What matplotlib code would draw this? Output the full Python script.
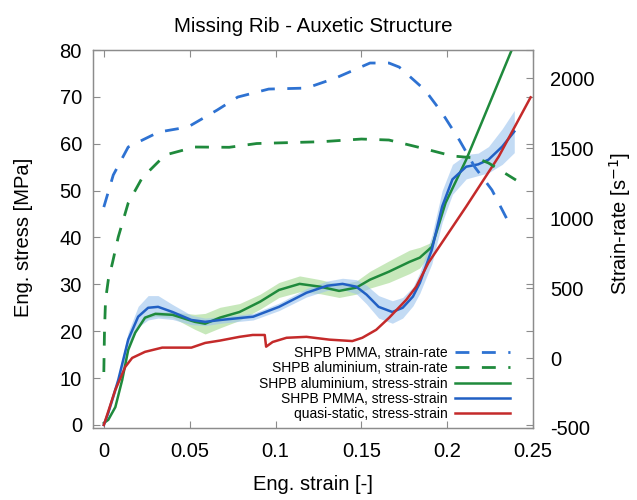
import matplotlib
matplotlib.use("Agg")
import matplotlib.pyplot as plt
import numpy as np

plt.rcParams['font.family'] = ['Liberation Sans', 'DejaVu Sans']
plt.rcParams['axes.unicode_minus'] = False

# --- SHPB PMMA, strain-rate ---
pmma_rate_strain = [0.0, 0.0055, 0.0142, 0.032, 0.049, 0.066, 0.078, 0.096, 0.118,
                    0.135, 0.155, 0.166, 0.172, 0.187, 0.197, 0.207, 0.216, 0.226, 0.235]
pmma_rate = [1078, 1307, 1507, 1614, 1650, 1771, 1864, 1921, 1928,
             2000, 2107, 2107, 2078, 1914, 1750, 1557, 1364, 1200, 986]

# --- SHPB aluminium, strain-rate ---
al_rate_strain = [0.0, 0.0004, 0.001, 0.0026, 0.005, 0.0084, 0.0142, 0.0223, 0.0357,
                  0.053, 0.073, 0.089, 0.127, 0.150, 0.166, 0.185, 0.203, 0.217,
                  0.224, 0.240]
al_rate = [-100, 200, 414, 557, 678, 864, 1107, 1286, 1450,
           1507, 1505, 1532, 1545, 1564, 1557, 1500, 1443, 1428,
           1393, 1271]

# --- SHPB aluminium, stress-strain (with scatter band half-width) ---
al_strain = [0.0, 0.0026, 0.0067, 0.0107, 0.0142, 0.0183, 0.024, 0.030, 0.040,
             0.053, 0.059, 0.0676, 0.079, 0.091, 0.102, 0.114, 0.126, 0.137,
             0.147, 0.155, 0.166, 0.178, 0.184, 0.191, 0.199, 0.211, 0.220, 0.2375]
al_stress = [0.4, 1.1, 3.8, 9.6, 16.0, 19.7, 22.9, 23.7, 23.5,
             22.0, 21.6, 22.9, 24.1, 26.3, 28.8, 30.1, 29.5, 28.6,
             29.3, 31.0, 32.7, 34.8, 35.7, 38.0, 47.4, 56.6, 64.5, 80.0]
al_band = [0.0, 0.0, 0.0, 0.0, 0.0, 0.0, 0.3, 0.5, 0.6,
           1.6, 2.2, 2.2, 1.8, 1.6, 1.6, 1.7, 1.5, 1.4,
           1.4, 1.8, 2.3, 2.5, 2.2, 1.0, 0.0, 0.0, 0.0, 0.0]

# --- SHPB PMMA, stress-strain (with scatter band half-width) ---
pmma_strain = [0.0, 0.0026, 0.0084, 0.0142, 0.020, 0.0258, 0.0316, 0.040, 0.051,
               0.059, 0.068, 0.087, 0.102, 0.118, 0.130, 0.139, 0.147, 0.153,
               0.160, 0.168, 0.174, 0.180, 0.184, 0.191, 0.197, 0.203, 0.211,
               0.218, 0.224, 0.232, 0.239]
pmma_stress = [0.0, 2.6, 9.6, 18.2, 23.1, 25.0, 25.2, 24.1, 22.4,
               22.0, 22.4, 23.1, 25.2, 28.2, 29.7, 30.1, 29.5, 27.8,
               25.2, 24.1, 25.0, 27.4, 30.3, 37.4, 46.6, 52.4, 55.1,
               55.6, 56.6, 59.4, 62.6]
pmma_band = [0.0, 0.4, 1.0, 1.6, 2.2, 2.6, 2.4, 1.6, 1.0,
             0.8, 0.7, 0.7, 0.8, 0.9, 1.0, 1.2, 1.5, 2.0,
             2.4, 2.4, 2.2, 2.0, 2.2, 3.0, 3.4, 3.2, 2.6,
             2.4, 2.8, 3.8, 4.5]

# --- quasi-static, stress-strain ---
qs_strain = [0.0, 0.001, 0.0067, 0.0125, 0.0165, 0.024, 0.034, 0.051, 0.059,
             0.0676, 0.079, 0.0867, 0.0937, 0.0945, 0.0983, 0.1064, 0.118,
             0.1314, 0.1447, 0.1505, 0.1586, 0.1662, 0.1761, 0.1819, 0.189,
             0.211, 0.230, 0.2485]
qs_stress = [0.0, 1.1, 7.5, 12.4, 14.3, 15.6, 16.5, 16.5, 17.5,
             18.0, 18.8, 19.2, 19.2, 16.7, 17.7, 18.6, 18.8,
             18.2, 17.9, 18.6, 20.3, 22.9, 26.7, 29.5, 34.6,
             46.6, 57.3, 69.9]

x_ticks = [0, 0.05, 0.1, 0.15, 0.2, 0.25]
x_tick_labels = ['0', '0.05', '0.1', '0.15', '0.2', '0.25']
y_ticks = [0, 10, 20, 30, 40, 50, 60, 70, 80]
y2_ticks = [-500, 0, 500, 1000, 1500, 2000]

c_blue = '#2160c4'
c_blue_dash = '#2e72d2'
c_green = '#1f8a3c'
c_red = '#c42a2a'
frame = '#8c8c8c'
fs = 14.5

fig = plt.figure(figsize=(6.37, 5.0), dpi=100)
ax = fig.add_axes([0.146, 0.144, 0.691, 0.756])
ax2 = ax.twinx()

# scatter bands
ax.fill_between(al_strain, np.array(al_stress) - np.array(al_band),
                np.array(al_stress) + np.array(al_band),
                color='#a3d98e', alpha=0.6, lw=0, zorder=1)
ax.fill_between(pmma_strain, np.array(pmma_stress) - np.array(pmma_band),
                np.array(pmma_stress) + np.array(pmma_band),
                color='#9cc3ee', alpha=0.6, lw=0, zorder=1)

h_al, = ax.plot(al_strain, al_stress, color=c_green, lw=1.8, zorder=3,
                label='SHPB aluminium, stress-strain')
h_pm, = ax.plot(pmma_strain, pmma_stress, color=c_blue, lw=1.8, zorder=3,
                label='SHPB PMMA, stress-strain')
h_qs, = ax.plot(qs_strain, qs_stress, color=c_red, lw=1.8, zorder=3,
                label='quasi-static, stress-strain')

h_pr, = ax2.plot(pmma_rate_strain, pmma_rate, color=c_blue_dash, lw=2,
                 ls=(0, (5, 4.5)), label='SHPB PMMA, strain-rate')
h_ar, = ax2.plot(al_rate_strain, al_rate, color=c_green, lw=2,
                 ls=(0, (5, 4.5)), label='SHPB aluminium, strain-rate')

ax.set_xlim(-0.0063, 0.25)
ax.set_ylim(-0.65, 80)
ax2.set_ylim(-500, 2200)
ax.set_xticks(x_ticks)
ax.set_xticklabels(x_tick_labels)
ax.set_yticks(y_ticks)
ax2.set_yticks(y2_ticks)

for a in (ax, ax2):
    for s in a.spines.values():
        s.set_color(frame)
        s.set_linewidth(0.9)
ax.tick_params(axis='x', direction='in', length=5, color=frame,
               labelsize=fs, top=True, pad=10)
ax.tick_params(axis='y', direction='in', length=5, color=frame,
               labelsize=fs, right=True, pad=8)
ax2.tick_params(axis='y', direction='in', length=5, color=frame,
                labelsize=fs, pad=12)

ax.set_xlabel('Eng. strain [-]', fontsize=fs)
ax.xaxis.set_label_coords(0.5, -0.125)
ax.set_ylabel('Eng. stress [MPa]', fontsize=fs)
ax.yaxis.set_label_coords(-0.136, 0.505)
ax2.set_ylabel(r'Strain-rate [s$^{-1}$]', fontsize=fs)
ax2.yaxis.set_label_coords(1.168, 0.54)
ax.set_title('Missing Rib - Auxetic Structure', fontsize=14.8, pad=13)

leg = ax2.legend(handles=[h_pr, h_ar, h_al, h_pm, h_qs], loc='lower right',
                 bbox_to_anchor=(0.97, -0.008), frameon=False, markerfirst=False,
                 fontsize=10, handlelength=4.0, labelspacing=0.1,
                 handletextpad=0.5, borderpad=0.2)

fig.savefig('out.png', dpi=100)
